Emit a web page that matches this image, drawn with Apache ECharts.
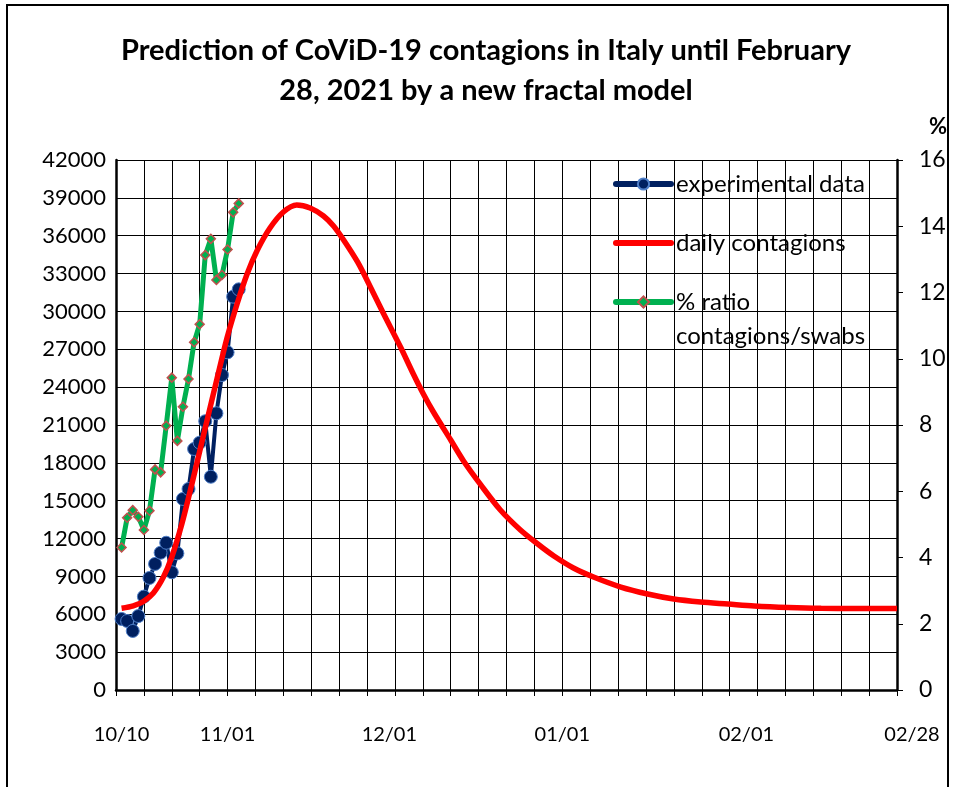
<!DOCTYPE html>
<html>
<head>
<meta charset="utf-8">
<script src="https://cdn.jsdelivr.net/npm/echarts@6/dist/echarts.min.js"></script>
<style>
html, body { margin: 0; padding: 0; background: #fff; }
#frame { position: absolute; left: 6px; top: 4px; width: 943px; height: 800px; border: 2px solid #000; box-sizing: border-box; }
#chart { position: absolute; left: 0; top: 0; width: 953px; height: 787px; }
</style>
</head>
<body>
<div id="frame"></div>
<div id="chart"></div>
<script>
// day 1 = 10/10
var expDays = [1, 2, 3, 4, 5, 6, 7, 8, 9, 10, 11, 12, 13, 14, 15, 16, 17, 18, 19, 20, 21, 22];
var expValues = [5630, 5470, 4680, 5860, 7400, 8880, 9990, 10880, 11670, 9330, 10830,
    15140, 15930, 19100, 19600, 21300, 16900, 21930, 24960, 26760, 31170, 31750];
var ratioValues = [4.30, 5.20, 5.43, 5.23, 4.83, 5.41, 6.66, 6.57, 7.98, 9.43, 7.52,
    8.55, 9.39, 10.50, 11.04, 13.13, 13.62, 12.38, 12.53, 13.30, 14.42, 14.69];
var modelDays = [1, 3.1, 4.9, 6.7, 8.5, 10, 11.8, 13.6, 15.4, 16.3, 18.1, 19.9,
    21.7, 23.5, 25.3, 27.6, 30, 32.4, 34.8, 37.2, 39, 40.8, 43.3, 45.6,
    47.9, 51, 53.3, 55.1, 56.9, 60, 62.3, 65.4, 68.9, 72.5, 75.6, 78.5,
    82, 85.6, 90.5, 95.3, 100, 104.8, 109.7, 114.4, 120.5, 126.4, 132.4, 140];
var modelValues = [6475, 6660, 7010, 7690, 8955, 10540, 13155, 16325, 19655, 21320, 24650, 27900,
    30590, 32970, 34830, 36610, 37880, 38440, 38200, 37565, 36770, 35660, 33920, 31940,
    29880, 27180, 25040, 23460, 22030, 19810, 18150, 16250, 14265, 12680, 11570, 10620,
    9670, 8955, 8160, 7610, 7210, 6975, 6815, 6660, 6540, 6475, 6465, 6460];
var dateLabelDays = [1, 20, 49, 80, 113, 140];
var dateLabels = ['10/10', '11/01', '12/01', '01/01', '02/01', '02/28'];

function pairs(xs, ys) {
    return xs.map(function (x, i) { return [x, ys[i]]; });
}

var font = 'Lato, "Open Sans", sans-serif';
var legendText = { fontFamily: font, fontSize: 24, color: '#000', lineHeight: 34 };
var chart = echarts.init(document.getElementById('chart'));
var option = {
    animation: false,
    textStyle: { fontFamily: font },
    title: {
        text: 'Prediction of CoViD-19 contagions in Italy until February\n28, 2021 by a new fractal model',
        left: 486,
        textAlign: 'center',
        top: 31,
        padding: 0,
        textStyle: { fontFamily: font, fontSize: 29, fontWeight: 'bold', color: '#000', lineHeight: 40 }
    },
    legend: [{
        orient: 'vertical',
        left: 613,
        top: 167,
        padding: 0,
        itemWidth: 55,
        itemHeight: 14,
        itemGap: 25,
        textStyle: legendText,
        data: [
            { name: 'experimental data', lineStyle: { width: 6, cap: 'round' } },
            { name: 'daily contagions', lineStyle: { width: 6, cap: 'round' }, itemStyle: { opacity: 0 } }
        ]
    }, {
        orient: 'vertical',
        left: 613,
        top: 251,
        padding: 0,
        itemWidth: 55,
        itemHeight: 14,
        textStyle: {
            fontFamily: font, fontSize: 24, color: '#000', lineHeight: 34,
            rich: {
                e: { fontFamily: font, fontSize: 24, lineHeight: 34 },
                t: { fontFamily: font, fontSize: 24, color: '#000', lineHeight: 34 }
            }
        },
        formatter: function (name) {
            return '{e| }\n' + name.split('\n').map(function (s) { return '{t|' + s + '}'; }).join('\n');
        },
        data: [
            { name: '% ratio\ncontagions/swabs', lineStyle: { width: 6, cap: 'round' } }
        ]
    }],
    grid: { left: 116, right: 56, top: 160, bottom: 97 },
    xAxis: {
        type: 'value',
        min: 0,
        max: 140,
        interval: 5,
        axisLine: { lineStyle: { color: '#000', width: 2.5 } },
        axisTick: { show: true, length: 6, lineStyle: { color: '#000' } },
        splitLine: { show: true, lineStyle: { color: '#000', width: 1 } },
        axisLabel: {
            customValues: dateLabelDays,
            formatter: function (v) {
                var s = dateLabels[dateLabelDays.indexOf(v)];
                return v === 140 ? '{r|' + s + '}' : s;
            },
            rich: { r: { fontSize: 20, color: '#000', fontFamily: font, padding: [0, 0, 0, 30] } },
            margin: 35,
            fontSize: 20,
            color: '#000',
            fontFamily: font
        }
    },
    yAxis: [{
        type: 'value',
        min: 0,
        max: 42000,
        interval: 3000,
        axisLine: { show: true, lineStyle: { color: '#000', width: 2.5 } },
        axisTick: { show: false },
        splitLine: { show: true, lineStyle: { color: '#000', width: 1 } },
        axisLabel: { fontSize: 22, color: '#000', margin: 10, fontFamily: font, formatter: function (v) { return String(v); } }
    }, {
        type: 'value',
        position: 'right',
        min: 0,
        max: 16,
        interval: 2,
        name: '%',
        nameLocation: 'end',
        nameGap: 22,
        nameTextStyle: { fontSize: 22, fontWeight: 'bold', color: '#000', align: 'left', padding: [0, 0, 0, 32], fontFamily: font },
        axisLine: { show: true, lineStyle: { color: '#000', width: 2.5 } },
        axisTick: { show: true, length: 6, lineStyle: { color: '#000' } },
        splitLine: { show: false },
        axisLabel: { fontSize: 23, color: '#000', margin: 22, fontFamily: font }
    }],
    series: [{
        name: 'experimental data',
        type: 'line',
        yAxisIndex: 0,
        data: pairs(expDays, expValues),
        symbol: 'circle',
        symbolSize: 13,
        itemStyle: { color: '#002060', borderColor: '#4f7fc8', borderWidth: 1 },
        lineStyle: { color: '#002060', width: 4 },
        z: 3
    }, {
        name: 'daily contagions',
        type: 'line',
        yAxisIndex: 0,
        data: pairs(modelDays, modelValues),
        symbol: 'none',
        smooth: 0.3,
        itemStyle: { color: '#ff0000' },
        lineStyle: { color: '#ff0000', width: 5.5 },
        z: 4
    }, {
        name: '% ratio\ncontagions/swabs',
        type: 'line',
        yAxisIndex: 1,
        data: pairs(expDays, ratioValues),
        symbol: 'diamond',
        symbolSize: 9,
        itemStyle: { color: '#00b050', borderColor: '#c0504d', borderWidth: 1.5 },
        lineStyle: { color: '#00b050', width: 5 },
        z: 5
    }]
};
chart.setOption(option);
</script>
</body>
</html>
